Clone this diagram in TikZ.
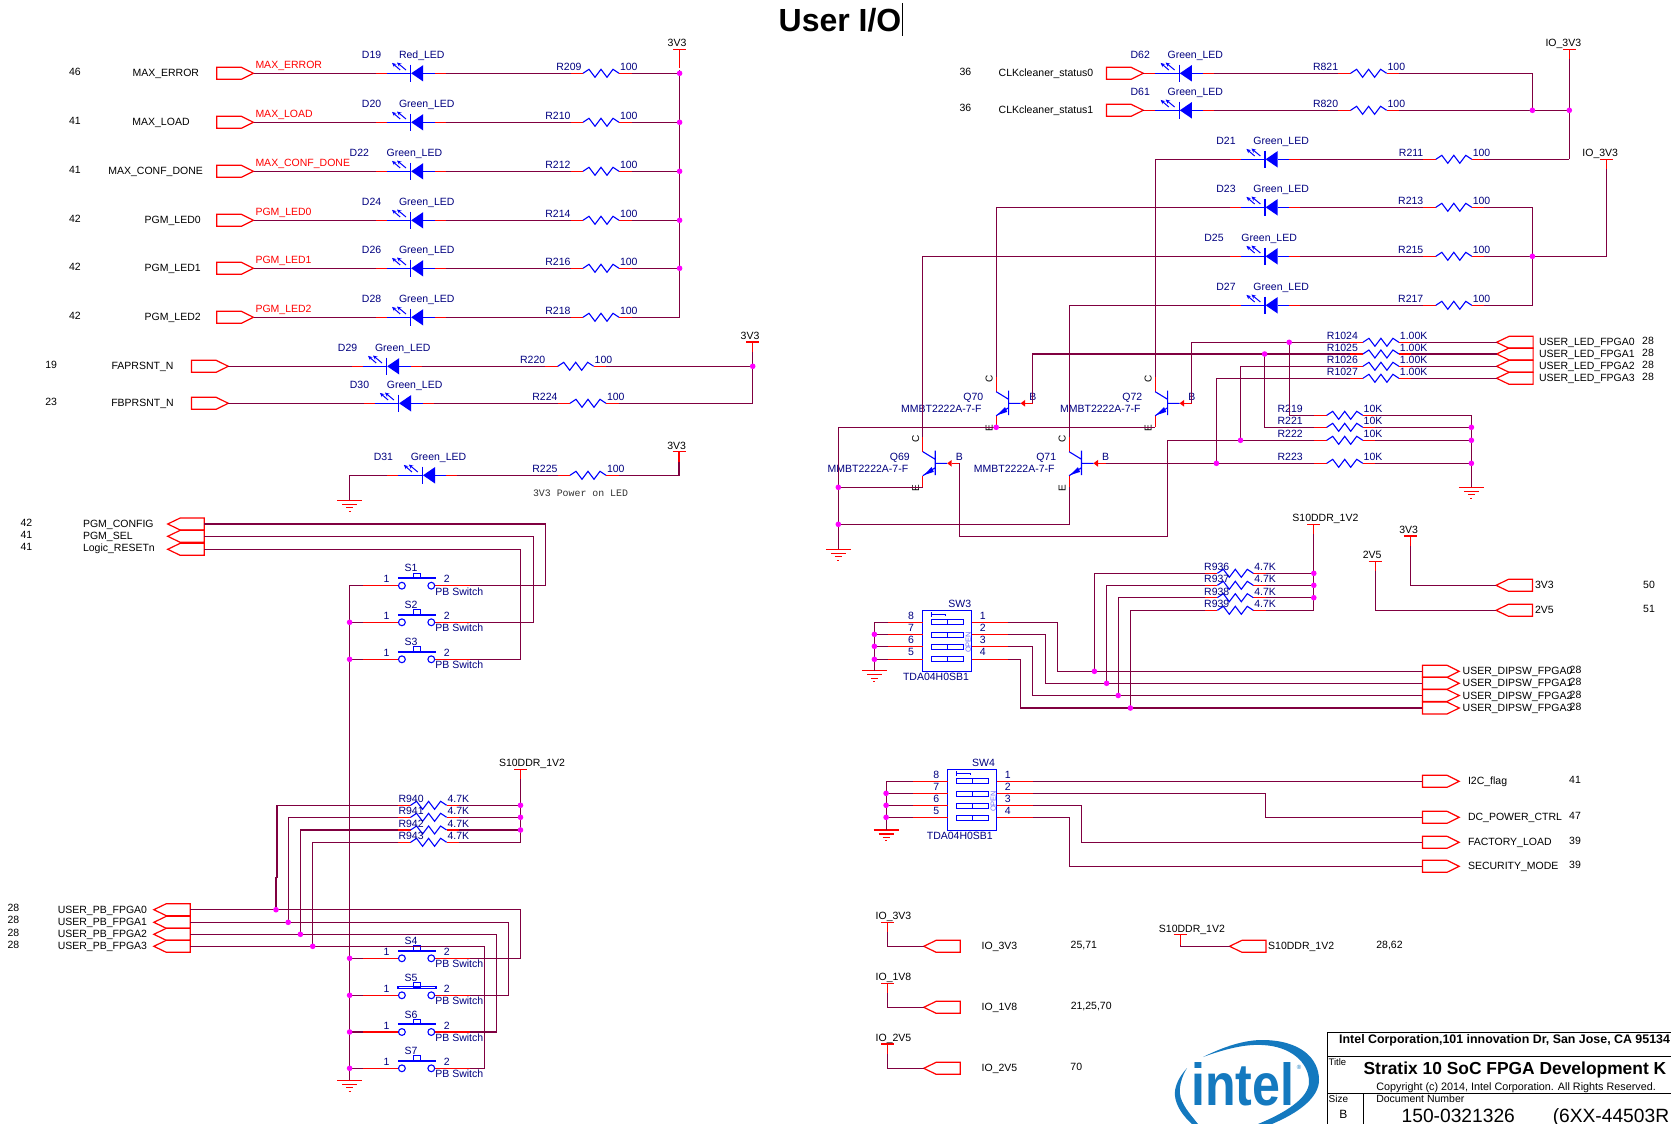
\documentclass[tikz,border=0pt]{standalone}
\usepackage{fontspec}
\usepackage{graphicx}
\setmainfont{Liberation Sans}
\newfontfamily\monof{Liberation Mono}
\usetikzlibrary{arrows.meta,calc}
\definecolor{wirec}{HTML}{800040}
\definecolor{redc}{HTML}{FF0000}
\definecolor{bluec}{HTML}{0000FF}
\definecolor{partc}{HTML}{000080}
\definecolor{junc}{HTML}{FF00FF}
\definecolor{intelc}{HTML}{1479BF}
\definecolor{openc}{HTML}{7070FF}
\pgfdeclarelayer{fg}
\pgfsetlayers{main,fg}
\tikzset{
  wire/.style={draw=wirec,line width=1.2pt,line join=miter},
  redw/.style={draw=redc,line width=1.2pt},
  bluew/.style={draw=bluec,line width=1.1pt},
  txt/.style={inner sep=0pt,outer sep=0pt,font=\fontsize{10.5}{12}\selectfont,text height=7.6pt,text depth=0.4pt},
  part/.style={txt,text=partc},
  blk/.style={txt,text=black},
  tb/.style={draw=black,line width=1pt},
}
\newcounter{nn}
\newcommand\TX[4][]{\stepcounter{nn}\node[blk,#1] (t\thenn) at (#2,#3) {#4};}
\newcommand\PT[4][]{\stepcounter{nn}\node[part,#1] (t\thenn) at (#2,#3) {#4};}
% LED: bar at x; [label shift]{name}{x}{y}{D}{value}
\newcommand\LEDc[6][0]{\begin{scope}[shift={(#3,#4)}]
  \coordinate (#2-k) at (-35,0); \coordinate (#2-a) at (35,0);
  \draw[redw] (-35,0)--(-24,0) (24,0)--(35,0);
  \draw[bluew] (-24,0)--(0,0) (12.6,0)--(24,0) (0,-8.7)--(0,8.7);
  \fill[bluec] (0.6,0)--(12.6,-8.2)--(12.6,8.2)--cycle;
  \draw[bluew,line width=1pt,-{Stealth[length=4.4pt,width=4pt]}] (-4.6,-3.3)--(-13.6,-10.8);
  \draw[bluew,line width=1pt,-{Stealth[length=4.4pt,width=4pt]}] (-10.4,-3.3)--(-18.6,-10.4);
  \PT{-39+#1}{-18}{#5}
  \PT[anchor=west]{-11.6+#1}{-18}{#6}
\end{scope}}
% Resistor: [label shift]{name}{x}{y}{R}{value}
\newcommand\RESc[6][-12.5]{\begin{scope}[shift={(#3,#4)}]
  \coordinate (#2-l) at (-12.5,0); \coordinate (#2-r) at (48.5,0);
  \draw[redw] (-12.5,0)--(0,0) (36,0)--(48.5,0);
  \draw[bluew,line join=miter] (0,0)--(6,-4)--(12,4)--(18,-4)--(24,4)--(30,-4)--(36,0);
  \PT[anchor=east]{#1}{-6}{#5}
  \PT[anchor=west]{37}{-6}{#6}
\end{scope}}
% right-pointing port, x = back edge
\newcommand\PORTr[3]{\begin{scope}[shift={(#2,#3)}]
  \coordinate (#1-w) at (0,0); \coordinate (#1-e) at (36.8,0);
  \draw[redw,line join=miter] (0,-6)--(24.6,-6)--(36.8,0)--(24.6,6)--(0,6)--cycle;
\end{scope}}
% left-pointing port, x = tip
\newcommand\PORTl[3]{\begin{scope}[shift={(#2,#3)}]
  \coordinate (#1-w) at (0,0); \coordinate (#1-e) at (36.5,0);
  \draw[redw,line join=miter] (0,0)--(12.5,-6)--(36.5,-6)--(36.5,6)--(12.5,6)--cycle;
\end{scope}}
% Power tee {name}{x}{y}{label}{label x}
\newcommand\TEEc[5]{\begin{scope}[shift={(#2,#3)}]
  \coordinate (#1) at (0,10);
  \draw[redw] (-6.5,0)--(6.5,0) (0,0)--(0,10);
  \TX{#5}{-6}{#4}
\end{scope}}
\newcommand\GNDc[3]{\begin{scope}[shift={(#2,#3)}]
  \coordinate (#1) at (0,0);
  \draw[redw] (-12.5,0)--(12.5,0) (-7.5,4)--(7.5,4) (-3.5,7.4)--(3.5,7.4) (-1,10.8)--(1,10.8);
\end{scope}}
\newcommand\JUN[3]{\coordinate (#1) at (#2,#3);
  \begin{pgfonlayer}{fg}\fill[junc] (#2,#3) circle (2.8pt);\end{pgfonlayer}}
% Push button {name}{y}{S}{bar style}
\newcommand\PBS[4]{\begin{scope}[shift={(0,#2)}]
  \coordinate (#1-l) at (362.5,0); \coordinate (#1-r) at (470,0);
  \draw[redw] (362.5,0)--(398.4,0) (435,0)--(470,0);
  \draw[bluew] (401.9,0) circle (3.4pt) (431.3,0) circle (3.4pt);
  #4
  \draw[bluew] (413.6,-7.6) rectangle (420.6,-12.6);
  \PT{411}{-17.5}{#3}
  \PT{386.6}{-6.5}{1}
  \PT{446.8}{-6.5}{2}
  \PT[anchor=west]{435.4}{5.8}{PB Switch}
\end{scope}}
\newcommand\PBbar{\draw[bluew,line width=2pt] (398,-7.6)--(436,-7.6);}
\newcommand\PBhollow{\draw[bluew] (398,-9)rectangle(436,-6.4);}
% NPN {name}{xb}{yb}{Q}
\newcommand\QN[4]{\begin{scope}[shift={(#2,#3)}]
  \coordinate (#1-c) at (-12.4,-26.6); \coordinate (#1-e) at (-12.4,24); \coordinate (#1-b) at (24,0);
  \draw[redw] (-12.4,-26.6)--(-12.4,-11.6) (-12.4,12.4)--(-12.4,24) (16.5,0)--(24,0);
  \draw[bluew] (0,-12.6)--(0,11.8) (0,0)--(12,0) (-12.4,-11.6)--(0,-4) (0,4.4)--(-12.4,12.4);
  \fill[bluec] (-11.6,11.9)--(-3.6,3.8)--(-1.4,8.6)--cycle;
  \fill[redc] (12,0)--(16.5,-3.4)--(16.5,3.4)--cycle;
  \PT[anchor=east]{-25.4}{-6}{#4}
  \PT[anchor=east]{-27}{6}{MMBT2222A-7-F}
  \TX[rotate=90,font=\fontsize{10}{12}\selectfont]{-19.6}{-24}{C}
  \TX[rotate=90,font=\fontsize{10}{12}\selectfont]{-19.6}{24.7}{E}
  \PT{24.2}{-6}{B}
\end{scope}}
% DIP switch {name}{x}{y}{SW}{yoffset of row 4}{tda x}{sw x}
\newcommand\DIPS[7]{\begin{scope}[shift={(#2,#3)}]
  \draw[bluew] (0,0) rectangle (49,61);
  \coordinate (#1-l1) at (-35,12); \coordinate (#1-l2) at (-35,24); \coordinate (#1-l3) at (-35,36); \coordinate (#1-l4) at (-35,#5);
  \coordinate (#1-r1) at (85.6,12); \coordinate (#1-r2) at (85.6,24); \coordinate (#1-r3) at (85.6,36); \coordinate (#1-r4) at (85.6,#5);
  \draw[redw] (-35,12)--(0,12) (-35,24)--(0,24) (-35,36)--(0,36) (-35,#5)--(0,#5);
  \draw[redw] (49,12)--(85.6,12) (49,24)--(85.6,24) (49,36)--(85.6,36) (49,#5)--(85.6,#5);
  \foreach \yy in {12,24.4,36.6,48.8}{
    \draw[bluew] (9,\yy-2.5) rectangle (41,\yy+2.5) (25,\yy-2.5)--(25,\yy+2.5);
  }
  \draw[bluew] (9,2)--(9,6.4) (9,4)--(23,4)--(23,6);
  \TX[rotate=90,text=openc,font=\fontsize{7.5}{9}\selectfont,text height=5.4pt]{45.8}{32}{OPEN}
  \PT{-11.4}{6}{8} \PT{-11.4}{18}{7} \PT{-11.4}{30}{6} \PT{-11.4}{42}{5}
  \PT{60.2}{6}{1} \PT{60.2}{18}{2} \PT{60.2}{30}{3} \PT{60.2}{42}{4}
  \PT{#7}{-6}{#4}
  \PT{#6}{67}{TDA04H0SB1}
\end{scope}}
% Left LED row
\newcommand\ROW[5]{%
  \PORTr{p#1}{216.7}{#2}
  \TX{75}{#2-1}{#3}
  \TX{#4}{#2}{#5}
  \TX[anchor=west,text=redc]{255.5}{#2-8}{#5}
  \draw[wire] (p#1-e) -- (d#1-k);
  \draw[wire] (d#1-a) -- (r#1-l);
  \draw[wire] (r#1-r) -- (busA |- r#1-r);
}
\begin{document}
\begin{tikzpicture}[x=1pt,y=-1pt]
\fill[white] (0,0) rectangle (1671,1124);
\useasboundingbox (0,0) rectangle (1671,1124);
% title
\TX[font=\fontsize{32}{36}\bfseries\selectfont,text height=23pt]{840}{20}{User I/O}
\coordinate (cur1) at (902.6,3); \coordinate (cur2) at (902.6,36);
\draw[black,line width=.8pt] (cur1)--(cur2);

% ---------- left LED block
\TEEc{busA}{679.6}{49.3}{3V3}{-2.6}
\coordinate (busB) at (679.6,317.3);
\draw[redw] (busA) -- (679.6,68);
\draw[wire] (679.6,70) -- (busB);
\LEDc{d1}{410.6}{73.3}{D19}{Red\_LED}   \RESc[-1.5]{r1}{583}{73.3}{R209}{100}
\LEDc{d2}{410.6}{122.3}{D20}{Green\_LED} \RESc{r2}{583}{122.3}{R210}{100}
\LEDc[-12.3]{d3}{410.6}{171.3}{D22}{Green\_LED} \RESc{r3}{583}{171.3}{R212}{100}
\LEDc{d4}{410.6}{220.3}{D24}{Green\_LED} \RESc{r4}{583}{220.3}{R214}{100}
\LEDc{d5}{410.6}{268.3}{D26}{Green\_LED} \RESc{r5}{583}{268.3}{R216}{100}
\LEDc{d6}{410.6}{317.3}{D28}{Green\_LED} \RESc{r6}{583}{317.3}{R218}{100}
\ROW{1}{73.3}{46}{165.8}{MAX\_ERROR}
\ROW{2}{122.3}{41}{161}{MAX\_LOAD}
\ROW{3}{171.3}{41}{155.6}{MAX\_CONF\_DONE}
\ROW{4}{220.3}{42}{172.7}{PGM\_LED0}
\ROW{5}{268.3}{42}{172.7}{PGM\_LED1}
\ROW{6}{317.3}{42}{172.7}{PGM\_LED2}
\JUN{ja1}{679.6}{73.3}\JUN{ja2}{679.6}{122.3}\JUN{ja3}{679.6}{171.3}\JUN{ja4}{679.6}{220.3}\JUN{ja5}{679.6}{268.3}

% FAPRSNT / FBPRSNT
\TEEc{busC}{752.7}{342}{3V3}{-2.7}
\PORTr{pfa}{191.5}{366.3}\PORTr{pfb}{191.5}{403.3}
\TX{51.2}{365.3}{19}\TX{51.2}{402.3}{23}
\TX{142.5}{366.3}{FAPRSNT\_N}\TX{142.5}{403.3}{FBPRSNT\_N}
\LEDc{dfa}{386.6}{366.3}{D29}{Green\_LED}\LEDc{dfb}{398.5}{403.3}{D30}{Green\_LED}
\RESc{rfa}{557.7}{366.3}{R220}{100}\RESc{rfb}{570}{403.3}{R224}{100}
\JUN{jc}{752.7}{366.3}
\draw[wire] (pfa-e)--(dfa-k) (dfa-a)--(rfa-l) (rfa-r)--(jc);
\draw[wire] (pfb-e)--(dfb-k) (dfb-a)--(rfb-l) (rfb-r)--(752.7,403.3)--(jc)--(busC);

% D31
\TEEc{busD}{679}{451.7}{3V3}{-2.4}
\LEDc{d31}{422.4}{475.3}{D31}{Green\_LED}\RESc{r225}{570}{475.3}{R225}{100}
\GNDc{g31}{349.8}{500.3}
\draw[wire] (g31)--(349.8,475.3)--(d31-k) (d31-a)--(r225-l) (r225-r)--(679,475.3)--(busD);
\stepcounter{nn}\node[txt,font=\fontsize{9.9}{12}\monof\selectfont,anchor=west,text=black!80] (t\thenn) at (533,492.7) {3V3 Power on LED};

% PGM ports and S1-S3
\PORTl{pc}{167.7}{524}\PORTl{ps}{167.7}{536.3}\PORTl{pr}{167.7}{549.3}
\TX{26.4}{523.3}{42}\TX{26.4}{535.3}{41}\TX{26.4}{547.3}{41}
\TX[anchor=west]{83}{524}{PGM\_CONFIG}\TX[anchor=west]{83}{536.3}{PGM\_SEL}\TX[anchor=west]{83}{548.3}{Logic\_RESETn}
\PBS{s1}{585.7}{S1}{\PBbar}\PBS{s2}{622.3}{S2}{\PBbar}\PBS{s3}{659.3}{S3}{\PBbar}
\draw[wire] (pc-e)--(545.8,524)--(545.8,585.7)--(s1-r);
\draw[wire] (ps-e)--(533.3,536.3)--(533.3,622.3)--(s2-r);
\draw[wire] (pr-e)--(520.4,549.3)--(520.4,659.3)--(s3-r);
\PBS{s4}{958.3}{S4}{\PBbar}\PBS{s5}{995.3}{S5}{\PBhollow}\PBS{s6}{1032}{S6}{\PBbar}\PBS{s7}{1068.3}{S7}{\PBbar}
\GNDc{gs}{349.6}{1080.3}
\JUN{js2}{349.6}{622.3}\JUN{js3}{349.6}{659.3}\JUN{js4}{349.6}{958.3}\JUN{js5}{349.6}{995.3}\JUN{js6}{349.6}{1032}\JUN{js7}{349.6}{1068.3}
\draw[wire] (s1-l)--(349.6,585.7)--(gs);
\draw[wire] (s2-l)--(js2) (s3-l)--(js3) (s4-l)--(js4) (s5-l)--(js5) (s6-l)--(js6) (s7-l)--(js7);

% pull-ups R940-943
\TEEc{busE}{520.5}{769.3}{S10DDR\_1V2}{11.5}
\RESc[13]{r940}{410.6}{805.3}{R940}{4.7K}\RESc[13]{r941}{410.6}{817.3}{R941}{4.7K}
\RESc[13]{r942}{410.6}{830}{R942}{4.7K}\RESc[13]{r943}{410.6}{842.3}{R943}{4.7K}
\JUN{je1}{520.5}{805.3}\JUN{je2}{520.5}{817.3}\JUN{je3}{520.5}{830}
\draw[wire] (busE)--(520.5,842.3)--(r943-r) (r940-r)--(je1) (r941-r)--(je2) (r942-r)--(je3);
\PORTl{pb0}{153.8}{909.7}\PORTl{pb1}{153.8}{922.3}\PORTl{pb2}{153.8}{934.3}\PORTl{pb3}{153.8}{946.3}
\TX{13.4}{908.3}{28}\TX{13.4}{920.3}{28}\TX{13.4}{933}{28}\TX{13.4}{945}{28}
\TX[anchor=west]{57.8}{909.7}{USER\_PB\_FPGA0}\TX[anchor=west]{57.8}{921.7}{USER\_PB\_FPGA1}\TX[anchor=west]{57.8}{934}{USER\_PB\_FPGA2}\TX[anchor=west]{57.8}{946}{USER\_PB\_FPGA3}
\JUN{jb0}{276}{909.7}\JUN{jb1}{288.2}{922.3}\JUN{jb2}{300.4}{934.3}\JUN{jb3}{312.7}{946.3}
\draw[wire] (r940-l)--(277,805.3)--(277,877.7)--(276,877.7)--(jb0);
\draw[wire] (r941-l)--(288.2,817.3)--(jb1);
\draw[wire] (r942-l)--(300.4,830)--(jb2);
\draw[wire] (r943-l)--(312.7,842.3)--(jb3);
\draw[wire] (pb0-e)--(520.5,909.7)--(520.5,958.3)--(s4-r);
\draw[wire] (pb1-e)--(508.2,922.3)--(508.2,995.3)--(s5-r);
\draw[wire] (pb2-e)--(496.4,934.3)--(496.4,1032)--(s6-r);
\draw[wire] (pb3-e)--(484.5,946.3)--(484.5,1068.3)--(s7-r);

% ---------- right LED block
\TEEc{busF}{1569.3}{49.3}{IO\_3V3}{-6}
\PORTr{pk0}{1106.5}{73.3}\PORTr{pk1}{1106.5}{110.3}
\TX{965.4}{72.3}{36}\TX{965.4}{108.3}{36}
\TX{1046}{73.3}{CLKcleaner\_status0}\TX{1046}{110.3}{CLKcleaner\_status1}
\LEDc{d62}{1179.2}{73.3}{D62}{Green\_LED}\LEDc{d61}{1179.2}{110.3}{D61}{Green\_LED}
\RESc{r821}{1350.6}{73.3}{R821}{100}\RESc{r820}{1350.6}{110.3}{R820}{100}
\JUN{jf1}{1532.4}{110.3}\JUN{jf2}{1569.3}{110.3}
\draw[wire] (pk0-e)--(d62-k) (d62-a)--(r821-l) (r821-r)--(1532.4,73.3)--(jf1);
\draw[wire] (pk1-e)--(d61-k) (d61-a)--(r820-l) (r820-r)--(jf1)--(jf2);
\draw[wire] (busF)--(jf2)--(1569.3,159.3);
\LEDc{d21}{1265}{159.3}{D21}{Green\_LED}\RESc{r211}{1435.8}{159.3}{R211}{100}
\LEDc{d23}{1265}{207.3}{D23}{Green\_LED}\RESc{r213}{1435.8}{207.3}{R213}{100}
\LEDc[-12]{d25}{1265}{256.3}{D25}{Green\_LED}\RESc{r215}{1435.8}{256.3}{R215}{100}
\LEDc{d27}{1265}{305.3}{D27}{Green\_LED}\RESc{r217}{1435.8}{305.3}{R217}{100}
\TEEc{busG}{1606.2}{159.3}{IO\_3V3}{-6}
\JUN{jg}{1532.4}{256.3}
\draw[wire] (d21-a)--(r211-l) (r211-r)--(1569.3,159.3);
\draw[wire] (d23-a)--(r213-l) (r213-r)--(1532.4,207.3)--(1532.4,305.3)--(r217-r);
\draw[wire] (d25-a)--(r215-l) (r215-r)--(jg)--(1606.2,256.3)--(busG);
\draw[wire] (d27-a)--(r217-l);

% transistors
\QN{q69}{935.2}{463.3}{Q69}
\QN{q70}{1008.6}{403.3}{Q70}
\QN{q71}{1081.5}{463.3}{Q71}
\QN{q72}{1167.6}{403.3}{Q72}
\draw[wire] (d21-k)--(q72-c |- d21-k)--(q72-c);
\draw[wire] (d23-k)--(q70-c |- d23-k)--(q70-c);
\draw[wire] (d25-k)--(q69-c |- d25-k)--(q69-c);
\draw[wire] (d27-k)--(q71-c |- d27-k)--(q71-c);
\JUN{jq0}{996.2}{427.3}\JUN{jq1}{838.3}{487.3}\JUN{jq2}{838.3}{524.3}
\GNDc{gq}{838.3}{549.3}
\draw[wire] (q72-e)--(jq0)--(838.3,427.3)--(gq);
\draw[wire] (q69-e)--(jq1);
\draw[wire] (q71-e)--(q71-e |- jq2)--(jq2);

% R1024..
\RESc[-5]{r1024}{1362.9}{342.3}{R1024}{1.00K}
\RESc[-5]{r1025}{1362.9}{354}{R1025}{1.00K}
\RESc[-5]{r1026}{1362.9}{366.3}{R1026}{1.00K}
\RESc[-5]{r1027}{1362.9}{378.3}{R1027}{1.00K}
\PORTl{pl0}{1496.6}{342.3}\PORTl{pl1}{1496.6}{354}\PORTl{pl2}{1496.6}{366.3}\PORTl{pl3}{1496.6}{378.3}
\TX[anchor=west]{1539}{342.3}{USER\_LED\_FPGA0}\TX[anchor=west]{1539}{354}{USER\_LED\_FPGA1}\TX[anchor=west]{1539}{366.3}{USER\_LED\_FPGA2}\TX[anchor=west]{1539}{378.3}{USER\_LED\_FPGA3}
\TX{1648}{341.3}{28}\TX{1648}{353}{28}\TX{1648}{365.3}{28}\TX{1648}{377.3}{28}
\draw[wire] (r1024-r)--(pl0-w) (r1025-r)--(pl1-w) (r1026-r)--(pl2-w) (r1027-r)--(pl3-w);
% R219..
\RESc[-24]{r219}{1326.7}{415.3}{R219}{10K}
\RESc[-24]{r221}{1326.7}{427.3}{R221}{10K}
\RESc[-24]{r222}{1326.7}{440.3}{R222}{10K}
\RESc[-24]{r223}{1326.7}{463.3}{R223}{10K}
\JUN{j1}{1289.2}{342.3}\JUN{j2}{1264.6}{354}\JUN{j3}{1240.5}{440.3}\JUN{j4}{1216.4}{463.3}
\JUN{jr1}{1471.4}{427.3}\JUN{jr2}{1471.4}{440.3}\JUN{jr3}{1471.4}{463.3}
\GNDc{gr}{1471.4}{487.3}
\draw[wire] (q72-b)--(q72-b |- r1024-l)--(r1024-l);
\draw[wire] (q70-b)--(q70-b |- r1025-l)--(r1025-l);
\draw[wire] (j1)--(j1 |- r219-l)--(r219-l);
\draw[wire] (j2)--(j2 |- r221-l)--(r221-l);
\draw[wire] (r1026-l)--(j3 |- r1026-l)--(j3);
\draw[wire] (r1027-l)--(j4 |- r1027-l)--(j4);
\draw[wire] (r219-r)--(1471.4,415.3)--(gr);
\draw[wire] (r221-r)--(jr1) (r222-r)--(jr2) (r223-r)--(jr3);
\draw[wire] (q71-b)--(r223-l);
\draw[wire] (r222-l)--(1167.3,440.3)--(1167.3,536.3)--(q69-b |- 0,536.3)--(q69-b);

% SW3
\DIPS{sw3}{922.5}{610.3}{SW3}{49}{13.5}{37.3}
\JUN{js31}{874.4}{634.3}\JUN{js32}{874.4}{646.3}\JUN{js33}{874.4}{659.3}
\GNDc{g3}{874.4}{670.7}
\draw[wire] (sw3-l1)--(874.4,622.3)--(g3);
\draw[wire] (sw3-l2)--(js31) (sw3-l3)--(js32) (sw3-l4)--(js33);
\TEEc{busH}{1313.8}{524.3}{S10DDR\_1V2}{11.6}
\RESc[12]{r936}{1217.3}{573.3}{R936}{4.7K}\RESc[12]{r937}{1217.3}{585.3}{R937}{4.7K}
\RESc[12]{r938}{1217.3}{597.7}{R938}{4.7K}\RESc[12]{r939}{1217.3}{610.3}{R939}{4.7K}
\JUN{jh1}{1313.8}{573.3}\JUN{jh2}{1313.8}{585.3}\JUN{jh3}{1313.8}{597.7}
\draw[wire] (busH)--(1313.8,610.3)--(r939-r) (r936-r)--(jh1) (r937-r)--(jh2) (r938-r)--(jh3);
\PORTr{pd0}{1422.4}{671.3}\PORTr{pd1}{1422.4}{683.3}\PORTr{pd2}{1422.4}{695.5}\PORTr{pd3}{1422.4}{708}
\JUN{jd0}{1094.4}{671.3}\JUN{jd1}{1106.6}{683.3}\JUN{jd2}{1118.2}{695.5}\JUN{jd3}{1130.4}{708}
\draw[wire] (r936-l)--(jd0 |- r936-l)--(jd0);
\draw[wire] (r937-l)--(jd1 |- r937-l)--(jd1);
\draw[wire] (r938-l)--(jd2 |- r938-l)--(jd2);
\draw[wire] (r939-l)--(jd3 |- r939-l)--(jd3);
\draw[wire] (sw3-r1)--(1057.3,622.3)--(1057.3,671.3)--(pd0-w);
\draw[wire] (sw3-r2)--(1045.6,634.3)--(1045.6,683.3)--(pd1-w);
\draw[wire] (sw3-r3)--(1032.4,646.3)--(1032.4,695.5)--(pd2-w);
\draw[wire] (sw3-r4)--(1020.7,659.3)--(1020.7,708)--(pd3-w);
\TX[anchor=west]{1462.7}{671.3}{USER\_DIPSW\_FPGA0}\TX[anchor=west]{1462.7}{683.3}{USER\_DIPSW\_FPGA1}\TX[anchor=west]{1462.7}{695.5}{USER\_DIPSW\_FPGA2}\TX[anchor=west]{1462.7}{708}{USER\_DIPSW\_FPGA3}
\TX{1575.5}{670.3}{28}\TX{1575.5}{682.3}{28}\TX{1575.5}{694.5}{28}\TX{1575.5}{706.5}{28}
% 3V3 2V5 ports
\TEEc{busI}{1410.7}{536}{3V3}{-2}
\TEEc{busJ}{1375.2}{561.3}{2V5}{-3}
\PORTl{pv3}{1496}{585.3}\PORTl{pv2}{1496}{610.3}
\draw[wire] (busI)--(busI |- pv3-w)--(pv3-w);
\draw[wire] (busJ)--(busJ |- pv2-w)--(pv2-w);
\TX[anchor=west]{1535}{585.3}{3V3}\TX[anchor=west]{1535}{610.3}{2V5}
\TX{1649}{584.7}{50}\TX{1649}{609}{51}

% SW4
\DIPS{sw4}{947.6}{769.3}{SW4}{48}{12.2}{36}
\JUN{js41}{886.1}{793.3}\JUN{js42}{886.1}{805.3}\JUN{js43}{886.1}{817.3}
\GNDc{g4}{886.1}{830}
\draw[wire] (sw4-l1)--(886.1,781.3)--(g4);
\draw[wire] (sw4-l2)--(js41) (sw4-l3)--(js42) (sw4-l4)--(js43);
\PORTr{pi0}{1422.4}{781.3}\PORTr{pi1}{1422.4}{817.3}\PORTr{pi2}{1422.4}{842.3}\PORTr{pi3}{1422.4}{866.3}
\draw[wire] (sw4-r1)--(pi0-w);
\draw[wire] (sw4-r2)--(1265.5,793.3)--(1265.5,817.3)--(pi1-w);
\draw[wire] (sw4-r3)--(1081.7,805.3)--(1081.7,842.3)--(pi2-w);
\draw[wire] (sw4-r4)--(1069.5,817.3)--(1069.5,866.3)--(pi3-w);
\TX[anchor=west]{1468}{781.3}{I2C\_flag}\TX[anchor=west]{1468}{817.3}{DC\_POWER\_CTRL}\TX[anchor=west]{1468}{842.3}{FACTORY\_LOAD}\TX[anchor=west]{1468}{866.3}{SECURITY\_MODE}
\TX{1575}{780}{41}\TX{1575}{816}{47}\TX{1575}{841}{39}\TX{1575}{865}{39}

% rail ports
\TEEc{busK}{887.7}{922.3}{IO\_3V3}{5.8}
\TEEc{busL}{887.7}{983.3}{IO\_1V8}{5.8}
\TEEc{busM}{887.7}{1044}{IO\_2V5}{5.8}
\TEEc{busN}{1180.2}{934.7}{S10DDR\_1V2}{11.7}
\PORTl{pr3}{923.7}{946.3}\PORTl{pr1}{923.7}{1007.3}\PORTl{pr2}{923.7}{1068.3}\PORTl{pr4}{1229.5}{946.3}
\draw[wire] (busK)--(busK |- pr3-w)--(pr3-w);
\draw[wire] (busL)--(busL |- pr1-w)--(pr1-w);
\draw[wire] (busM)--(busM |- pr2-w)--(pr2-w);
\draw[wire] (busN)--(busN |- pr4-w)--(pr4-w);
\TX{999.5}{946.3}{IO\_3V3}\TX{999.5}{1007.3}{IO\_1V8}\TX{999.5}{1068.3}{IO\_2V5}
\TX{1083.8}{945.3}{25,71}\TX{1091.2}{1006.3}{21,25,70}\TX{1076.3}{1067}{70}
\TX[anchor=west]{1268.2}{946.3}{S10DDR\_1V2}\TX{1389.5}{945}{28,62}

% title block
\draw[tb] (1671,1032.7)--(1327.5,1032.7)--(1327.5,1124);
\draw[tb] (1327.5,1056.7)--(1671,1056.7) (1327.5,1093.7)--(1671,1093.7) (1363.4,1093.7)--(1363.4,1124);
\TX[anchor=west,font=\fontsize{12.4}{14}\bfseries\selectfont]{1339.2}{1039.5}{Intel Corporation,101 innovation Dr,  San Jose, CA 95134}
\TX[anchor=west,font=\fontsize{9.5}{12}\selectfont]{1328.6}{1062.3}{Title}
\TX[anchor=west,font=\fontsize{17.4}{20}\bfseries\selectfont,text height=12.6pt]{1363.6}{1068.3}{Stratix 10 SoC FPGA Development K}
\TX[anchor=west,font=\fontsize{10.8}{12}\selectfont]{1376.3}{1087.3}{Copyright (c) 2014, Intel Corporation.  All Rights Reserved.}
\TX[anchor=west,font=\fontsize{10}{12}\selectfont]{1328.6}{1099.3}{Size}
\TX[font=\fontsize{12}{14}\selectfont,text height=8.6pt]{1343.4}{1114}{B}
\TX[anchor=west]{1376.3}{1099.3}{Document Number}
\TX[anchor=west,font=\fontsize{19.2}{22}\selectfont,text height=13.8pt]{1401.7}{1115.7}{150-0321326}
\TX[anchor=west,font=\fontsize{19.2}{22}\selectfont,text height=13.8pt]{1552.8}{1115.7}{(6XX-44503R}

% intel logo
\fill[intelc] (1203,1057) .. controls (1225,1046) and (1245,1040) .. (1262,1040)
  .. controls (1300,1040) and (1319,1058) .. (1319,1080)
  .. controls (1319,1098) and (1298,1113) .. (1272,1124)
  -- (1258,1124)
  .. controls (1285,1113) and (1309,1098) .. (1309,1082)
  .. controls (1309,1062) and (1290,1046) .. (1262,1045)
  .. controls (1245,1044) and (1225,1049) .. (1203,1057) -- cycle;
\fill[intelc] (1187,1068) .. controls (1178,1078) and (1174,1088) .. (1175,1096)
  .. controls (1176,1106) and (1183,1116) .. (1192,1124)
  -- (1198,1124) .. controls (1190,1114) and (1181,1104) .. (1180,1094)
  .. controls (1179,1086) and (1182,1076) .. (1187,1068) -- cycle;
\stepcounter{nn}\node[inner sep=0pt,anchor=south west,text=intelc] (t\thenn) at (1191,1106.5) {\resizebox{103pt}{43pt}{\fontsize{40}{44}\bfseries\selectfont intel}};
\stepcounter{nn}\node[inner sep=0pt,text=intelc,font=\fontsize{6}{7}\selectfont] (t\thenn) at (1299,1067) {®};
\end{tikzpicture}
\end{document}
